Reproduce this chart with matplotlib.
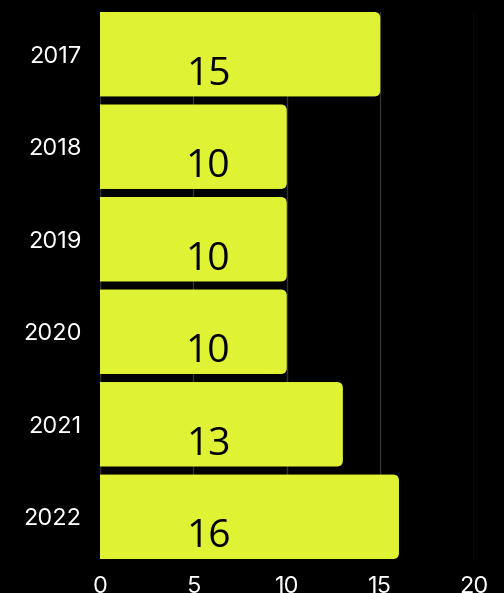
import matplotlib.pyplot as plt
from matplotlib.patches import FancyBboxPatch

years = ["2017", "2018", "2019", "2020", "2021", "2022"]
counts = [15, 10, 10, 10, 13, 16]
x_ticks = [0, 5, 10, 15, 20]

bar_color = "#dff233"

fig = plt.figure(figsize=(5.04, 5.93), dpi=100, facecolor="black")
ax = fig.add_axes([0.198, 0.0573, 0.742, 0.9225], facecolor="black")

ypos = list(range(len(years)))
bh = 0.913
bars = ax.barh(ypos, counts, height=bh, color=bar_color)

ax.set_xlim(0, 20)
ax.set_ylim(len(years) - 1 + bh / 2, -bh / 2)

# swap the plain bars for ones with rounded right corners
x_px = 0.742 * 504 / 20
y_px = 0.9225 * 593 / (len(years) - 1 + bh)
for b in bars:
    b.set_visible(False)
    p = FancyBboxPatch((b.get_x() - 1, b.get_y()), b.get_width() + 1, b.get_height(),
                       boxstyle="round,pad=0,rounding_size=0.32",
                       mutation_aspect=x_px / y_px,
                       facecolor=bar_color, edgecolor="none", zorder=2)
    p.set_clip_path(ax.patch)
    ax.add_patch(p)

for i, v in enumerate(counts):
    ax.text(5.8, i + 0.33, f"{v}", ha="center", va="baseline",
            fontsize=28, color="black", family="Open Sans", zorder=3)

ax.set_yticks(ypos, years)
ax.set_xticks(x_ticks)
ax.grid(True, axis="x", color="#333333", linewidth=1, zorder=0)
ax.set_axisbelow(True)
for s in ax.spines.values():
    s.set_visible(False)
ax.tick_params(axis="both", length=0, colors="white", labelsize=17)
ax.tick_params(axis="x", pad=12)
ax.tick_params(axis="y", pad=13)
for lbl in ax.get_xticklabels() + ax.get_yticklabels():
    lbl.set_family("Inter")

fig.savefig("out.png", dpi=100, facecolor="black")
